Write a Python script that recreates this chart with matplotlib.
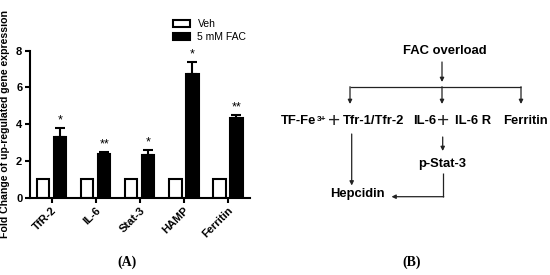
import matplotlib
matplotlib.use("Agg")
import matplotlib.pyplot as plt
import numpy as np

plt.rcParams['font.family'] = ['Liberation Sans', 'DejaVu Sans']

# ---- data ----
genes = ["TfR-2", "IL-6", "Stat-3", "HAMP", "Ferritin"]
veh = [1.0, 1.0, 1.0, 1.0, 1.0]
fac = [3.32, 2.40, 2.35, 6.74, 4.36]
fac_err = [0.50, 0.10, 0.24, 0.65, 0.13]
stars = ["*", "**", "*", "*", "**"]
series_labels = ["Veh", "5 mM FAC"]
yticks = [0, 2, 4, 6, 8]

W, H = 550, 275
fig = plt.figure(figsize=(5.5, 2.75), dpi=100)

# ---- panel A ----
ax = fig.add_axes([30 / W, 1 - 197.7 / H, 220 / W, 147 / H])
x = np.arange(len(genes))
bw = 0.28
off = 0.193
b1 = ax.bar(x - off, veh, bw, color="white", edgecolor="black", linewidth=1.5,
            label=series_labels[0])
b2 = ax.bar(x + off, fac, bw, color="black", edgecolor="black", linewidth=1.5,
            label=series_labels[1])
ax.errorbar(x + off, fac, yerr=[np.zeros(len(fac)), fac_err], fmt="none",
            ecolor="black", elinewidth=1.5, capsize=3.5, capthick=1.5)
for xi, v, e, s in zip(x, fac, fac_err, stars):
    ax.annotate(s, (xi + off, v + e), xytext=(0, 1), textcoords="offset points",
                ha="center", va="bottom", fontsize=9)

ax.set_xlim(-0.49, 4.5)
ax.set_ylim(0, 8)
ax.set_yticks(yticks)
ax.set_xticks(x)
ax.set_xticklabels(genes, rotation=45, ha="right", rotation_mode="anchor",
                   fontsize=8, fontweight="bold")
for lab in ax.get_yticklabels():
    lab.set_fontweight("bold")
    lab.set_fontsize(8)
ax.tick_params(axis="both", width=1.5, length=3.5, direction="out", pad=2)
for sp in ["top", "right"]:
    ax.spines[sp].set_visible(False)
for sp in ["left", "bottom"]:
    ax.spines[sp].set_linewidth(1.5)
ax.set_ylabel("Fold Change of up-regulated gene expression", fontsize=7.6,
              fontweight="bold")
ax.yaxis.set_label_coords(-0.093, 0.5)

ax.legend(handles=[b1, b2], loc="upper left",
          bbox_to_anchor=(173 / W, 1 - 19 / H), bbox_transform=fig.transFigure,
          frameon=False, fontsize=7.5, handlelength=1.6, handleheight=0.6,
          handletextpad=0.75, labelspacing=0.3, borderpad=0, borderaxespad=0)

fig.text(127 / W, 1 - 262 / H, "(A)", family="Liberation Serif", fontweight="bold",
         fontsize=10, ha="center", va="center")

# ---- panel B (diagram) ----
d = fig.add_axes([0, 0, 1, 1])
d.set_xlim(0, W)
d.set_ylim(H, 0)
d.axis("off")
d.patch.set_alpha(0)

fs = 9.4
tkw = dict(fontsize=fs, fontweight="bold", va="center")
pkw = dict(ha="center", va="center", fontsize=15, fontweight="normal", color="#222222")
d.text(445, 51.5, "FAC overload", ha="center", **tkw)
d.text(316.7, 121, "TF-Fe", ha="right", **tkw)
d.text(316.9, 119.5, "3+", ha="left", fontsize=6, fontweight="bold", va="center")
d.text(333.7, 121.5, "+", **pkw)
d.text(373.5, 121, "Tfr-1/Tfr-2", ha="center", **tkw)
d.text(424.5, 121, "IL-6", ha="center", **tkw)
d.text(442.7, 121.5, "+", **pkw)
d.text(472.8, 121, "IL-6 R", ha="center", **tkw)
d.text(525, 121, "Ferritin", ha="center", **tkw)
d.text(441.7, 163.5, "p-Stat-3", ha="center", **tkw)
d.text(357.2, 194.5, "Hepcidin", ha="center", **tkw)

akw = dict(arrowstyle="-|>", color="#222222", lw=0.9, mutation_scale=6,
           shrinkA=0, shrinkB=0)

def arrow(x0, y0, x1, y1):
    d.annotate("", xy=(x1, y1), xytext=(x0, y0), arrowprops=akw)

lkw = dict(color="#222222", lw=0.9, solid_capstyle="butt")
arrow(442, 62, 442, 82)
d.plot([350, 521], [86.7, 86.7], **lkw)
for xx in [350, 442, 521]:
    arrow(xx, 86.7, xx, 104)
arrow(351.7, 134, 351.7, 185.5)
arrow(442.7, 137, 442.7, 151)
d.plot([443.3, 443.3], [173, 196.7], **lkw)
arrow(443.7, 196.7, 391.5, 196.7)

fig.text(411.7 / W, 1 - 262.7 / H, "(B)", family="Liberation Serif", fontweight="bold",
         fontsize=10, ha="center", va="center")

fig.savefig("out.png", dpi=100)
